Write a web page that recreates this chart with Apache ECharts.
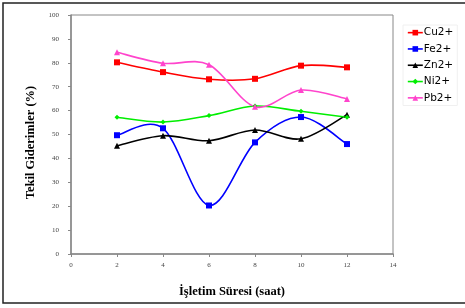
<!DOCTYPE html>
<html>
<head>
<meta charset="utf-8">
<script src="https://cdn.jsdelivr.net/npm/echarts@6/dist/echarts.min.js"></script>
<style>
  html, body { margin: 0; padding: 0; background: #fff; }
  #chart { width: 465px; height: 308px; }
</style>
</head>
<body>
<div id="chart"></div>
<script>
// saat (x) ve giderim yüzdeleri
const hours = [2, 4, 6, 8, 10, 12]
const cu = [80.2, 76.1, 73.1, 73.3, 78.8, 78.1]
const fe = [49.7, 52.6, 20.3, 46.7, 57.3, 46.0]
const zn = [45.3, 49.5, 47.4, 51.9, 48.2, 58.3]
const ni = [57.2, 55.2, 57.9, 61.9, 59.7, 57.2]
const pb = [84.4, 79.8, 79.2, 61.6, 68.6, 64.9]
const seriesNames = ['Cu2+', 'Fe2+', 'Zn2+', 'Ni2+', 'Pb2+']

const tickFont = '"Liberation Serif", serif'
const titleFont = '"Liberation Serif", serif'

/**
 * Excel tarzı yumuşak eğri (Catmull-Rom), her parça bir bezier
 */
const curveSeries = (values, color) => ({
  type: 'custom',
  silent: true,
  z: 1,
  data: values.map((v, i) => [hours[i], v]),
  renderItem (params, api) {
    const i = params.dataIndex
    const last = values.length - 1
    if (i >= last) return null
    const p = k => {
      const j = Math.max(0, Math.min(last, k))
      return api.coord([hours[j], values[j]])
    }
    const p0 = p(i - 1)
    const p1 = p(i)
    const p2 = p(i + 1)
    const p3 = p(i + 2)
    return {
      type: 'bezierCurve',
      shape: {
        x1: p1[0], y1: p1[1],
        cpx1: p1[0] + (p2[0] - p0[0]) / 6, cpy1: p1[1] + (p2[1] - p0[1]) / 6,
        cpx2: p2[0] - (p3[0] - p1[0]) / 6, cpy2: p2[1] - (p3[1] - p1[1]) / 6,
        x2: p2[0], y2: p2[1]
      },
      style: { fill: 'none', stroke: color, lineWidth: 1.6 }
    }
  }
})

const markSeries = (name, values, color, symbol, size) => ({
  name: name,
  type: 'line',
  z: 2,
  data: values.map((v, i) => [hours[i], v]),
  symbol: symbol,
  symbolSize: size,
  color: color,
  lineStyle: { width: 1.6, color: color, opacity: 0 },
  itemStyle: { color: color }
})

const defs = [
  ['Cu2+', cu, '#ff0000', 'rect', 6],
  ['Fe2+', fe, '#0000ff', 'rect', 6],
  ['Zn2+', zn, '#000000', 'triangle', 6],
  ['Ni2+', ni, '#00ee00', 'diamond', 5],
  ['Pb2+', pb, '#ff44cc', 'triangle', 6]
]

const chart = echarts.init(document.getElementById('chart'))
chart.setOption({
  animation: false,
  graphic: [{
    type: 'rect',
    shape: { x: 3, y: 3, width: 480, height: 300 },
    style: { fill: 'none', stroke: '#222', lineWidth: 1.5 }
  }],
  grid: { left: 71, right: 72, top: 15, bottom: 54, show: true, borderColor: '#888', borderWidth: 1 },
  legend: {
    orient: 'vertical',
    left: 403,
    top: 25,
    itemGap: 5,
    itemWidth: 15,
    itemHeight: 7,
    padding: [2, 4],
    borderColor: '#f0f0f0',
    borderWidth: 1,
    data: seriesNames,
    lineStyle: { opacity: 1, width: 1.6 },
    textStyle: { fontFamily: '"DejaVu Sans", sans-serif', fontSize: 10.5, lineHeight: 11.3, color: '#000', padding: [0, 0, 0, -4] }
  },
  xAxis: {
    type: 'value',
    min: 0,
    max: 14,
    interval: 2,
    name: 'İşletim Süresi (saat)',
    nameLocation: 'middle',
    nameGap: 31,
    nameTextStyle: { fontFamily: titleFont, fontWeight: 'bold', fontSize: 12.5, color: '#000' },
    axisLine: { lineStyle: { color: '#888', width: 1.5 } },
    axisTick: { show: true, length: 3, lineStyle: { color: '#888' } },
    axisLabel: { fontFamily: tickFont, fontSize: 7, color: '#444', margin: 8 },
    splitLine: { show: false }
  },
  yAxis: {
    type: 'value',
    min: 0,
    max: 100,
    interval: 10,
    name: 'Tekil Giderimler (%)',
    nameLocation: 'middle',
    nameGap: 27,
    nameTextStyle: { fontFamily: titleFont, fontWeight: 'bold', fontSize: 12.5, color: '#000', padding: [0, 16, 0, 0] },
    axisLine: { show: true, lineStyle: { color: '#888', width: 1.5 } },
    axisTick: { show: true, length: 3, lineStyle: { color: '#888' } },
    axisLabel: { fontFamily: tickFont, fontSize: 7, color: '#444', margin: 12 },
    splitLine: { show: false }
  },
  series: defs.map(d => curveSeries(d[1], d[2])).concat(defs.map(d => markSeries(...d)))
})
</script>
</body>
</html>
